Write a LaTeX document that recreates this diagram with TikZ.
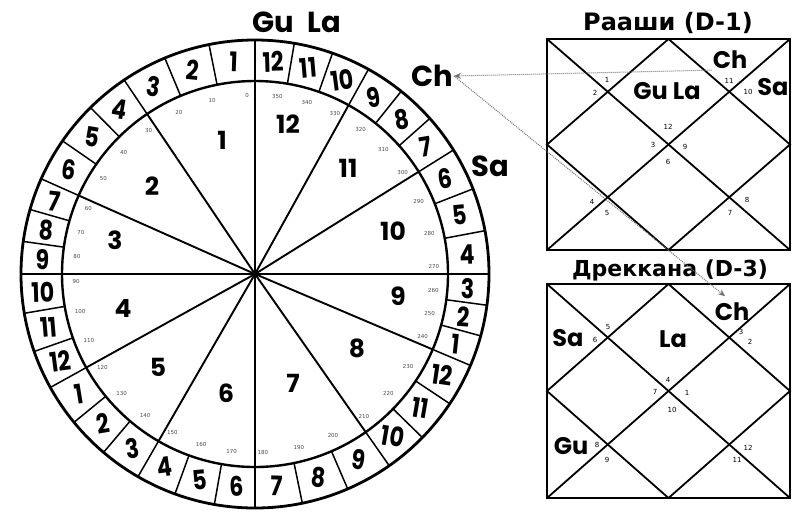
\documentclass[tikz,border=0pt]{standalone}
\usepackage{fontspec}
\usepackage{graphicx}
\setmainfont{DejaVu Sans}
\newfontfamily\lab{Poppins}
\usetikzlibrary{arrows.meta}
\tikzset{
  outerc/.style={line width=2.8pt},
  innerc/.style={line width=2.4pt},
  ray/.style={line width=1.9pt},
  divl/.style={line width=1.5pt},
  ringnum/.style={font=\lab\bfseries\fontsize{27}{27}\selectfont, inner sep=0pt},
  secnum/.style={font=\lab\bfseries\fontsize{25}{25}\selectfont, inner sep=0pt},
  deg/.style={font=\fontsize{5.5}{6}\selectfont, text=black!70, inner sep=0pt},
  planet/.style={font=\lab\bfseries\fontsize{29}{29}\selectfont, inner sep=1pt},
  cplanet/.style={font=\lab\bfseries\fontsize{24}{24}\selectfont, inner sep=1pt},
  charttitle/.style={font=\bfseries\fontsize{24}{24}\selectfont, inner sep=1pt},
  chart/.style={draw, line width=2.6pt, minimum width=243pt, inner sep=0pt, outer sep=0pt},
  cline/.style={line width=1.8pt},
  hnum/.style={font=\fontsize{7}{7}\selectfont, inner sep=0pt},
  conn/.style={black!55, line width=1pt, densely dotted},
  tip/.style={-{Stealth[length=7pt,width=6pt]}},
}
\begin{document}
\begin{tikzpicture}[x=1pt,y=-1pt]
\useasboundingbox (0,0) rectangle (792,515);
\fill[white] (0,0) rectangle (792,515);
\def\cx{255}\def\cy{274}\def\Ro{234}\def\Ri{193}
\coordinate (C) at (\cx,\cy);
\draw[outerc] (C) circle[radius=\Ro pt];
\draw[innerc] (C) circle[radius=\Ri pt];
\foreach \a/\b [count=\i from 0] in {0/34,34/66,66/90,90/119,119/150,150/180,180/215,215/247,247/270,270/302,302/331,331/360}{
  \draw[ray] (C) -- ({\cx-\Ri*sin(\a)},{\cy-\Ri*cos(\a)});
  \foreach \j in {0,1,2}{
    \pgfmathsetmacro\tA{\a+\j*(\b-\a)/3}
    \pgfmathsetmacro\mA{\a+(\j+0.5)*(\b-\a)/3}
    \pgfmathtruncatemacro\nA{mod(3*\i+\j,12)+1}
    \pgfmathtruncatemacro\dA{10*(3*\i+\j)}
    \pgfmathsetmacro\rA{-10*sin(2*\mA)}
    \draw[divl] ({\cx-\Ri*sin(\tA)},{\cy-\Ri*cos(\tA)}) -- ({\cx-\Ro*sin(\tA)},{\cy-\Ro*cos(\tA)});
    \node[ringnum, rotate=\rA] at ({\cx-213*sin(\mA)},{\cy-213*cos(\mA)}) {\scalebox{0.82}[1]{\nA}};
    \node[deg] at ({\cx-179*sin(\tA+2.5)},{\cy-179*cos(\tA+2.5)}) {\dA};
  }
}
% sector numbers
\node[secnum] (s1) at (222,140) {1};
\node[secnum] (s2) at (152,186) {2};
\node[secnum] (s3) at (115,240) {3};
\node[secnum] (s4) at (123,308) {4};
\node[secnum] (s5) at (158,367) {5};
\node[secnum] (s6) at (226,393) {6};
\node[secnum] (s7) at (293,383) {7};
\node[secnum] (s8) at (357,348) {8};
\node[secnum] (s9) at (398,296) {9};
\node[secnum] (s10) at (393,231) {10};
\node[secnum] (s11) at (348,168) {11};
\node[secnum] (s12) at (288,124) {12};
% planets around wheel
\node[planet] (gula0) at (297,22) {Gu\hspace{0.45em}La};
\node[planet] (ch0) at (432,76) {Ch};
\node[planet] (sa0) at (490,166) {Sa};
% chart D-1
\node[charttitle] (t1) at (668,23) {Рааши (D-1)};
\node[chart, minimum height=211pt] (d1) at (668.5,144.5) {};
\draw[cline] (d1.north west) -- (d1.south east);
\draw[cline] (d1.north east) -- (d1.south west);
\draw[cline] (d1.north) -- (d1.east) -- (d1.south) -- (d1.west) -- cycle;
\node[cplanet] (ch1) at (730,60) {Ch};
\node[cplanet] (gula1) at (667,91) {Gu La};
\node[cplanet] (sa1) at (773,87) {Sa};
\foreach \p/\t in {{(668,127)}/12,{(607,80)}/1,{(595,93)}/2,{(653,145)}/3,{(592,202)}/4,{(607,213)}/5,{(668,162)}/6,{(730,213)}/7,{(747,200)}/8,{(685,147)}/9,{(748,92)}/10,{(729,81)}/11}
  \node[hnum] at \p {\t};
% chart D-3
\node[charttitle, font=\bfseries\fontsize{22}{22}\selectfont] (t3) at (670,270) {Дреккана (D-3)};
\node[chart, minimum height=214pt] (d3) at (668.5,391) {};
\draw[cline] (d3.north west) -- (d3.south east);
\draw[cline] (d3.north east) -- (d3.south west);
\draw[cline] (d3.north) -- (d3.east) -- (d3.south) -- (d3.west) -- cycle;
\node[cplanet] (sa3) at (568,338) {Sa};
\node[cplanet] (la3) at (673,339) {La};
\node[cplanet] (ch3) at (732,312) {Ch};
\node[cplanet] (gu3) at (571,446) {Gu};
\foreach \p/\t in {{(668,380)}/4,{(608,327)}/5,{(595,340)}/6,{(655,392)}/7,{(597,445)}/8,{(607,460)}/9,{(672,410)}/10,{(737,460)}/11,{(748,448)}/12,{(687,393)}/1,{(750,342)}/2,{(741,332)}/3}
  \node[hnum] at \p {\t};
% connectors
\draw[conn, tip] (ch1.south west) -- (ch0.east);
\draw[conn, tip, shorten >=9pt] (ch0.east) -- (ch3.north);
\end{tikzpicture}
\end{document}
